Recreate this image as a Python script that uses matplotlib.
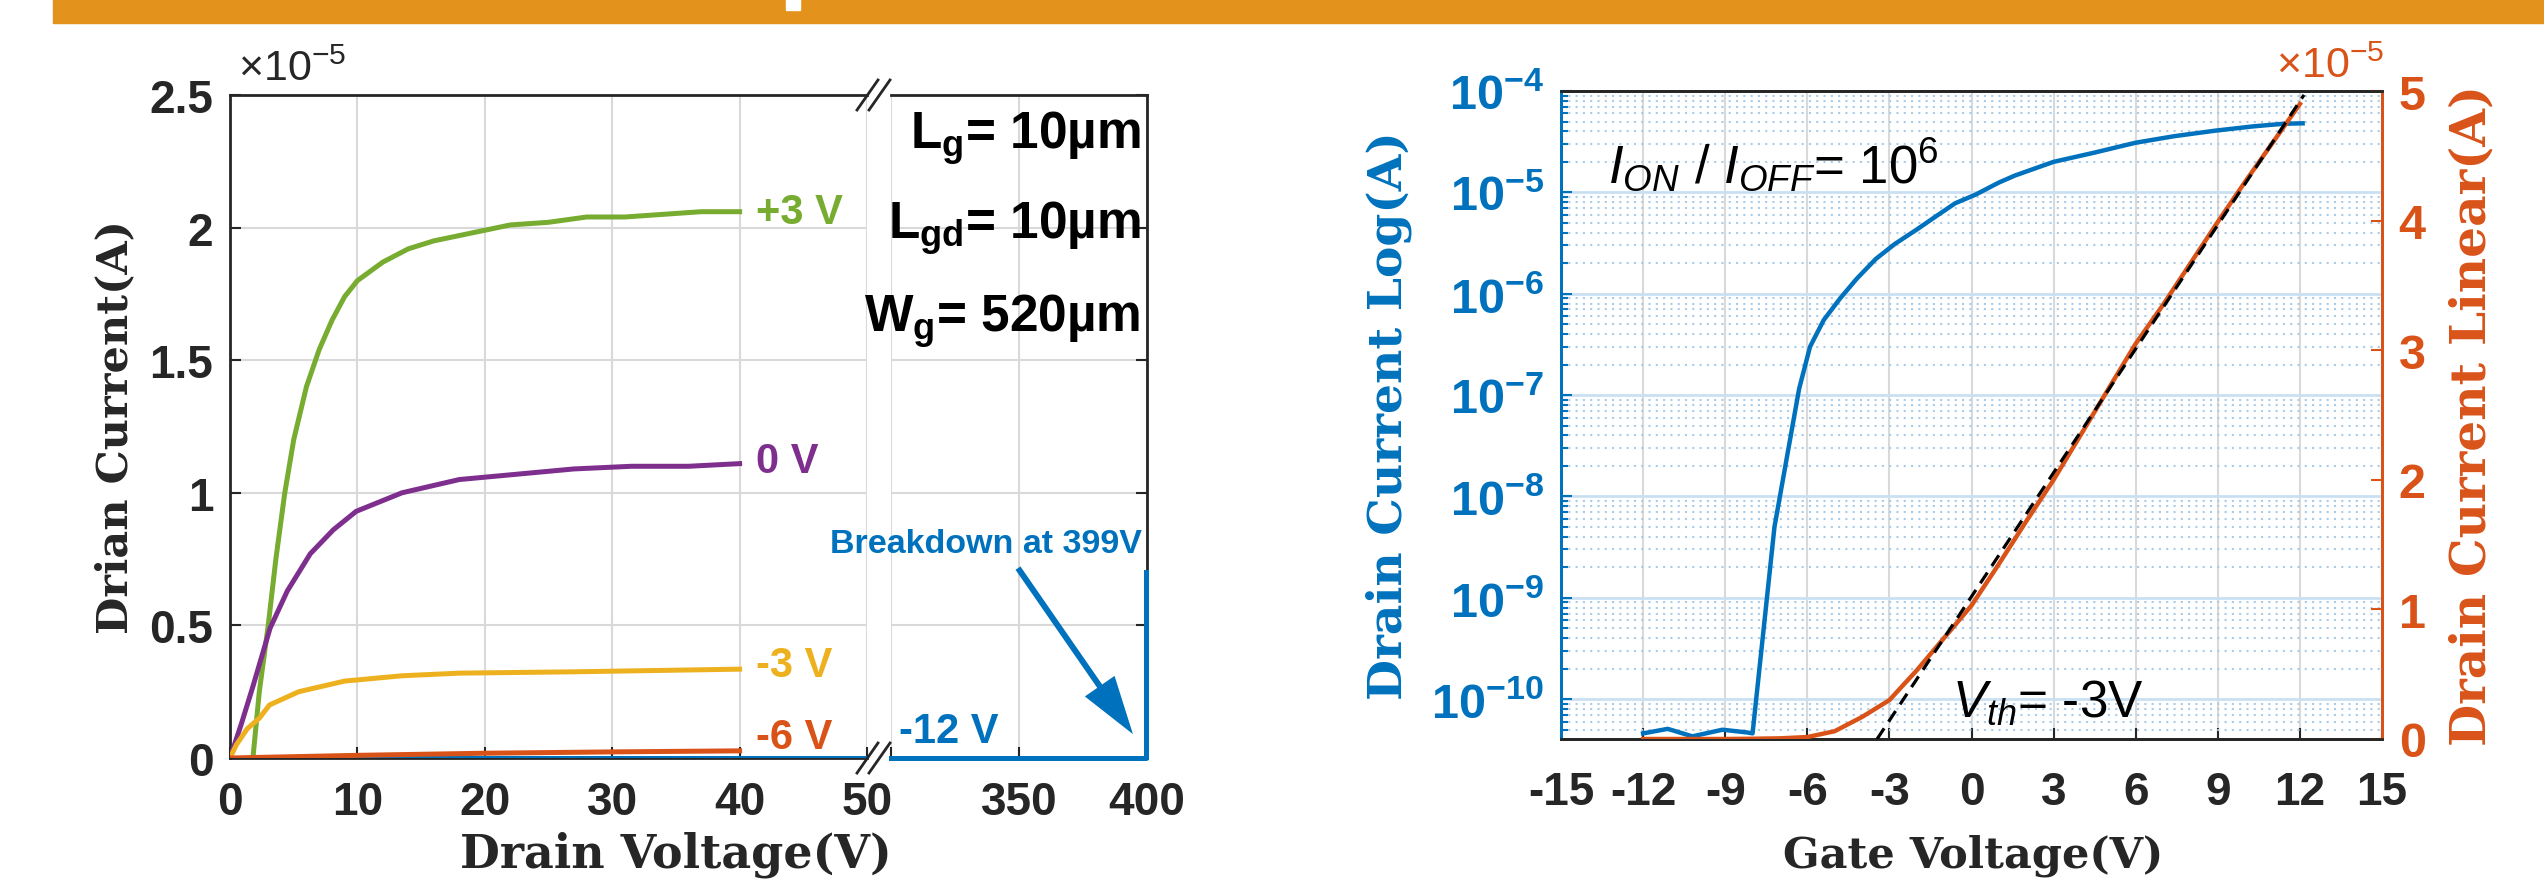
import numpy as np
import matplotlib.pyplot as plt
from matplotlib.patches import Rectangle
from matplotlib.lines import Line2D
from matplotlib.ticker import LogLocator, NullFormatter

plt.rcParams['font.family'] = ['Liberation Sans', 'DejaVu Sans']
plt.rcParams['mathtext.fontset'] = 'custom'
plt.rcParams['mathtext.rm'] = 'Liberation Sans'
plt.rcParams['mathtext.it'] = 'Liberation Sans:italic'
plt.rcParams['mathtext.bf'] = 'Liberation Sans:bold'
plt.rcParams['axes.unicode_minus'] = False

W, H = 2544, 895

# ---- output characteristics (Id in units of 1e-5 A) ----
vd_p3 = [1.8, 2.3, 3.0, 3.6, 4.3, 5.0, 6.0, 7.0, 8.0, 9.0, 10, 12, 14, 16, 18, 20, 22, 25, 28, 31, 34, 37, 40]
id_p3 = [0, 0.25, 0.5, 0.75, 1.0, 1.2, 1.4, 1.54, 1.65, 1.74, 1.80, 1.87, 1.92, 1.95, 1.97, 1.99, 2.01, 2.02,
         2.04, 2.04, 2.05, 2.06, 2.06]
vd_0 = [0, 0.9, 1.8, 3.15, 4.5, 6.3, 8.1, 9.9, 13.5, 18, 22.5, 27, 31.5, 36, 40]
id_0 = [0, 0.13, 0.27, 0.49, 0.63, 0.77, 0.86, 0.93, 1.0, 1.05, 1.07, 1.09, 1.10, 1.10, 1.11]
vd_m3 = [0, 0.5, 1.35, 2.3, 3.1, 5.4, 9, 13.5, 18, 27, 40]
id_m3 = [0, 0.05, 0.11, 0.15, 0.2, 0.25, 0.29, 0.31, 0.32, 0.325, 0.335]
vd_m6 = [0, 10, 20, 30, 40]
id_m6 = [0, 0.01, 0.018, 0.023, 0.027]
vd_m12 = [0, 50, 300, 399.7, 399.7]
id_m12 = [0, 0, 0, 0, 0.70]

out_labels = ['+3 V', '0 V', '-3 V', '-6 V']
out_label_y = [2.06, 1.12, 0.35, 0.08]

# ---- transfer characteristics ----
vg_log = [-12, -11.1, -10.2, -9.1, -8.2, -8.0, -7.2, -6.3, -5.9, -5.4, -4.8, -4.2, -3.5, -2.8, -2.0, -1.3,
          -0.6, 0.15, 1.0, 1.6, 3.0, 4.5, 6.0, 7.4, 8.9, 10.3, 11.4, 12.1]
id_log = [4.6e-11, 5.1e-11, 4.3e-11, 5.0e-11, 4.7e-11, 4.6e-11, 5e-9, 1.15e-7, 3e-7, 5.5e-7, 9e-7, 1.4e-6,
          2.2e-6, 3.1e-6, 4.3e-6, 5.8e-6, 7.8e-6, 9.5e-6, 1.25e-5, 1.47e-5, 2.0e-5, 2.47e-5, 3.09e-5, 3.58e-5,
          4.06e-5, 4.48e-5, 4.75e-5, 4.8e-5]
vg_lin = list(range(-12, 13))
id_lin = [0, 0, 0, 0, 0.002, 0.005, 0.015, 0.06, 0.17, 0.30, 0.53, 0.78, 1.03, 1.35, 1.68, 2.0, 2.35, 2.7,
          3.05, 3.35, 3.67, 3.99, 4.3, 4.6, 4.9]
vth_fit_x = [-3.45, 12.15]
vth_fit_y = [0, 4.97]

BLUE = '#0072BD'
ORANGE = '#D95319'
GREEN = '#77AC30'
PURPLE = '#7E2F8E'
YELLOW = '#EDB120'
DARK = '#262626'
GRID = '#D9D9D9'


def rect(x0, y0, x1, y1):
    return [x0 / W, 1 - y1 / H, (x1 - x0) / W, (y1 - y0) / H]


def fx(x):
    return x / W


def fy(y):
    return 1 - y / H


fig = plt.figure(figsize=(W / 100, H / 100), dpi=100)

# banner
fig.patches.append(Rectangle((fx(53), fy(24)), 1 - fx(53), 24 / H, transform=fig.transFigure,
                             color='#E3931C', zorder=0))
fig.patches.append(Rectangle((fx(786), fy(11)), 14 / W, 11 / H, transform=fig.transFigure,
                             color='white', zorder=1))

label_font = dict(family='DejaVu Serif', weight='bold')
TS = 33

# ---------------- left chart ----------------
ax1 = fig.add_axes(rect(230, 96, 867, 759))
ax2 = fig.add_axes(rect(891, 96, 1147, 759))

curves = [(vd_p3, id_p3, GREEN), (vd_0, id_0, PURPLE), (vd_m3, id_m3, YELLOW), (vd_m6, id_m6, ORANGE)]
ax1.plot(vd_m12, id_m12, color=BLUE, lw=3.6, zorder=3)
ax2.plot(vd_m12[2:], id_m12[2:], color=BLUE, lw=3.6, zorder=3, clip_on=False)
for vd, idd, c in curves:
    ax1.plot(vd, idd, color=c, lw=3.6, zorder=4)

ax1.set_xlim(0, 50)
ax2.set_xlim(300, 400)
for ax in (ax1, ax2):
    ax.set_ylim(0, 2.5)
    ax.grid(True, color=GRID, lw=1.5)
    ax.tick_params(direction='in', length=8, width=1.5, colors=DARK, labelsize=TS, pad=14)
    for s in ax.spines.values():
        s.set_linewidth(2)
        s.set_color(DARK)

ax1.set_xticks([0, 10, 20, 30, 40, 50], ['0', '10', '20', '30', '40', '50'])
ax1.set_yticks([0, 0.5, 1, 1.5, 2, 2.5], ['0', '0.5', '1', '1.5', '2', '2.5'])
ax1.spines['right'].set_visible(False)
ax1.tick_params(axis='y', pad=12)
ax1.tick_params(axis='x', pad=16)
ax2.set_xticks([300, 350, 400], ['', '350', '400'])
ax2.set_yticks([0, 0.5, 1, 1.5, 2, 2.5])
ax2.tick_params(axis='y', left=False, right=True, labelleft=False)
ax2.tick_params(axis='x', pad=16)
ax2.spines['left'].set_visible(False)
for ax in (ax1, ax2):
    for lab in ax.get_xticklabels() + ax.get_yticklabels():
        lab.set_fontweight('bold')

for lab, y, (_, _, c) in zip(out_labels, out_label_y, curves):
    ax1.text(41.3, y, lab, color=c, fontsize=30, fontweight='bold', va='center', ha='left',
             clip_on=False)
ax2.text(303, 0.1, '-12 V', color=BLUE, fontsize=30, fontweight='bold', va='center', ha='left')

ax2.text(397.6, 2.34, r'L$_\mathbf{g}$= 10µm', fontsize=37, fontweight='bold', ha='right', va='center')
ax2.text(397.6, 2.00, r'L$_\mathbf{gd}$= 10µm', fontsize=37, fontweight='bold', ha='right', va='center')
ax2.text(397.6, 1.65, r'W$_\mathbf{g}$= 520µm', fontsize=37, fontweight='bold', ha='right', va='center')
ax2.text(398, 0.81, 'Breakdown at 399V', color=BLUE, fontsize=24.5, fontweight='bold', ha='right',
         va='center', clip_on=False)
ax2.annotate('', xy=(394.5, 0.09), xytext=(349.6, 0.716), annotation_clip=False,
             arrowprops=dict(width=4.3, headwidth=26, headlength=42, color=BLUE, lw=0))

# axis break marks
for yb in (96, 759):
    for xb in (857, 869):
        fig.add_artist(Line2D([fx(xb), fx(xb + 21)], [fy(yb + 15), fy(yb - 15)], color=DARK, lw=2))

fig.text(fx(238), fy(70), '×10$^{-5}$', fontsize=31, color=DARK, ha='left', va='center')
fig.text(fx(115), fy(427), 'Drian Current(A)', rotation=90, ha='center', va='center', fontsize=31,
         color=DARK, **label_font)
fig.text(fx(676), fy(855), 'Drain Voltage(V)', ha='center', va='center', fontsize=33, color=DARK,
         **label_font)

# ---------------- right chart ----------------
axr = fig.add_axes(rect(1561, 92, 2382, 740))
axr.set_yscale('log')
axr.set_xlim(-15, 15)
axr.set_ylim(4.05e-11, 1e-4)
axr.plot(vg_log, id_log, color=BLUE, lw=3.2, zorder=3)
axr.set_xticks(np.arange(-15, 16, 3))
decades = [1e-10, 1e-9, 1e-8, 1e-7, 1e-6, 1e-5, 1e-4]
axr.set_yticks(decades, [r'$\mathbf{10^{%d}}$' % int(np.log10(d)) for d in decades])
axr.yaxis.set_minor_locator(LogLocator(base=10, subs=np.arange(2, 10), numticks=100))
axr.yaxis.set_minor_formatter(NullFormatter())
axr.grid(True, which='major', axis='y', color='#C9E0F3', lw=2)
axr.grid(True, which='minor', axis='y', color='#A8CCEA', ls=(0, (1, 2.5)), lw=1.5)
axr.grid(True, which='major', axis='x', color=GRID, lw=1.5)
axr.tick_params(axis='x', direction='in', length=8, width=1.5, colors=DARK, labelsize=TS, pad=22)
axr.tick_params(axis='y', which='major', direction='in', length=8, width=1.5, colors=BLUE, labelsize=35,
                pad=12)
axr.tick_params(axis='y', which='minor', direction='in', length=5, width=1.5, colors=BLUE)
for lab in axr.get_xticklabels():
    lab.set_fontweight('bold')

axr2 = axr.twinx()
axr2.set_ylim(0, 5)
axr2.plot(vg_lin, id_lin, color=ORANGE, lw=3.2, zorder=3)
axr2.plot(vth_fit_x, vth_fit_y, color='black', lw=2.3, ls=(0, (4, 2.5)), zorder=4)
axr2.set_yticks([0, 1, 2, 3, 4, 5], ['0', '1', '2', '3', '4', '5'])
axr2.tick_params(axis='y', direction='in', length=8, width=1.5, colors=ORANGE, labelsize=35, pad=12)
for lab in axr2.get_yticklabels():
    lab.set_fontweight('bold')

for ax in (axr, axr2):
    for s in ax.spines.values():
        s.set_linewidth(2)
    ax.spines['top'].set_color(DARK)
    ax.spines['bottom'].set_color(DARK)
    ax.spines['left'].set_color(BLUE)
    ax.spines['right'].set_color(ORANGE)

axr.text(-13.3, 1.9e-5, r'$I_{ON}\ /\ I_{OFF}$= 10$^6$', fontsize=38, ha='left', va='center')
axr2.text(-0.7, 0.285, r'$V_{th}$= -3V', fontsize=37, ha='left', va='center')

fig.text(fx(2384), fy(67), '×10$^{-5}$', fontsize=31, color=ORANGE, ha='right', va='center')
fig.text(fx(1389), fy(416), 'Drain Current Log(A)', rotation=90, ha='center', va='center', fontsize=34,
         color=BLUE, **label_font)
fig.text(fx(2472), fy(415), 'Drain Current Linear(A)', rotation=90, ha='center', va='center', fontsize=35,
         color=ORANGE, **label_font)
fig.text(fx(1973), fy(856), 'Gate Voltage(V)', ha='center', va='center', fontsize=31, color=DARK,
         **label_font)

fig.savefig('out.png', dpi=100)
